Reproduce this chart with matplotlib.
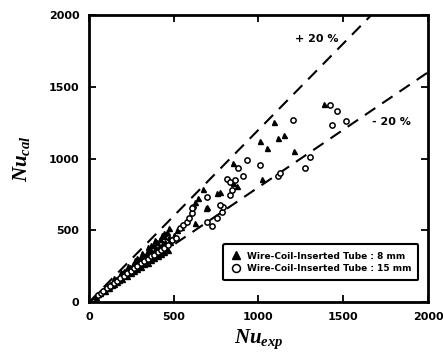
import matplotlib
matplotlib.use("Agg")
import matplotlib.pyplot as plt

plt.rcParams['mathtext.fontset'] = 'custom'
plt.rcParams['mathtext.it'] = 'Liberation Serif:bold:italic'
plt.rcParams['mathtext.rm'] = 'Liberation Serif:bold'

# Wire-coil-inserted tube : 8 mm (filled triangles)
tri_x = [40, 55, 65, 80, 90, 100, 110, 120, 130, 140, 150, 160, 170, 180, 190,
         200, 210, 220, 230, 240, 250, 260, 270, 280, 290, 300, 310, 320, 330,
         340, 350, 360, 370, 380, 390, 400, 410, 420, 430, 440, 450, 460, 470,
         135, 175, 215, 255, 295, 335, 375, 415, 455, 480, 500, 520, 540,
         95, 115, 145, 165, 195, 225, 245, 265, 285, 305, 325, 345, 365, 385,
         405, 425, 445, 465, 150, 190, 230, 270, 310, 350, 390, 430, 470,
         125, 185, 235, 275, 315, 355, 395, 435, 475, 205, 285, 365, 445,
         625, 625, 645, 675, 690, 694, 753, 773, 851, 871, 851, 1019, 1009,
         1052, 1093, 1113, 1152, 1211, 1386]
tri_y = [38, 55, 62, 82, 86, 98, 112, 115, 128, 142, 145, 162, 165, 184, 180,
         205, 200, 225, 222, 245, 240, 268, 258, 290, 275, 310, 295, 330, 318,
         352, 335, 372, 350, 395, 368, 420, 385, 440, 400, 460, 420, 490, 450,
         120, 155, 190, 225, 258, 290, 320, 350, 380, 420, 470, 500, 520,
         80, 100, 125, 138, 162, 185, 200, 215, 232, 245, 262, 275, 290, 305,
         320, 335, 350, 365, 165, 210, 250, 295, 340, 385, 430, 470, 515,
         125, 180, 225, 270, 305, 345, 375, 410, 440, 215, 305, 400, 480,
         550, 699, 723, 785, 655, 664, 757, 769, 827, 808, 971, 855, 1122,
         1071, 1252, 1145, 1164, 1052, 1380]

# Wire-coil-inserted tube : 15 mm (open circles)
cir_x = [50, 70, 85, 105, 125, 145, 165, 185, 205, 225, 245, 265, 285, 305,
         325, 345, 365, 385, 405, 425, 445, 465, 492, 511, 537, 556, 576, 590,
         606, 616, 606, 694, 694, 724, 753, 783, 793, 773, 832, 842, 812, 832,
         861, 881, 906, 930, 1009, 1117, 1127, 1274, 1304, 1205, 1422, 1465,
         1432, 1516]
cir_y = [48, 65, 80, 100, 112, 135, 150, 168, 185, 205, 215, 235, 250, 270,
         285, 300, 320, 330, 350, 365, 380, 400, 432, 444, 513, 536, 560, 583,
         618, 664, 657, 734, 560, 530, 583, 629, 664, 676, 746, 780, 855, 838,
         850, 932, 878, 990, 955, 880, 897, 932, 1013, 1268, 1373, 1333,
         1233, 1263]

# +/-20 % deviation bounds
bound_x = [0, 2000]
ratios = [1.2, 0.8]

fig = plt.figure(figsize=(4.43, 3.55), dpi=100)
ax = fig.add_axes([0.201, 0.149, 0.765, 0.809])

for r in ratios:
    ax.plot(bound_x, [r * v for v in bound_x], color='black', lw=1.5,
            dashes=(6, 4))

ax.plot(tri_x, tri_y, linestyle='none', marker='^', ms=3.6, mfc='black',
        mec='black', label='Wire-Coil-Inserted Tube : 8 mm')
ax.plot(cir_x, cir_y, linestyle='none', marker='o', ms=3.8, mfc='white',
        mec='black', mew=1.1, label='Wire-Coil-Inserted Tube : 15 mm')

ax.text(1215, 1812, '+ 20 %', fontsize=8, fontweight='bold')
ax.text(1670, 1233, '- 20 %', fontsize=8, fontweight='bold')

ax.set_xlim(0, 2000)
ax.set_ylim(0, 2000)
ax.set_xticks([0, 500, 1000, 1500, 2000])
ax.set_yticks([0, 500, 1000, 1500, 2000])
ax.tick_params(direction='in', top=True, right=True, length=5, width=1.3,
               labelsize=8, pad=7)
for lab in ax.get_xticklabels() + ax.get_yticklabels():
    lab.set_fontweight('bold')
for s in ax.spines.values():
    s.set_linewidth(2)

ax.set_xlabel(r'$Nu_{exp}$', fontsize=15, labelpad=4)
ax.set_ylabel(r'$Nu_{cal}$', fontsize=15, labelpad=12)

leg = ax.legend(loc='lower right', bbox_to_anchor=(0.985, 0.06),
                prop={'weight': 'bold', 'size': 6.5}, fancybox=True,
                edgecolor='black', framealpha=1, handletextpad=0.6,
                borderpad=0.8, handlelength=1.2, labelspacing=0.4,
                markerscale=1.5)
leg.get_frame().set_linewidth(1.5)

fig.savefig('out.png', dpi=100)
